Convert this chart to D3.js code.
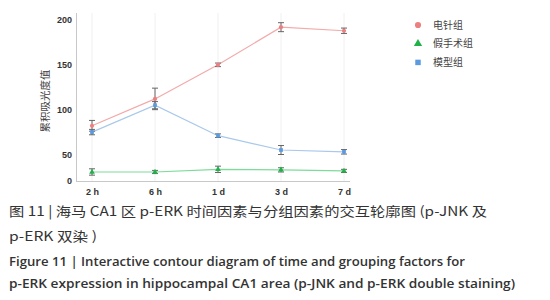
<!DOCTYPE html>
<html><head><meta charset="utf-8">
<script src="https://cdn.jsdelivr.net/npm/d3@7"></script>
<style>body{margin:0;background:#fff}svg{display:block}</style>
</head><body>
<svg id="c" width="550" height="300"></svg>
<script>
const categories = ["2 h", "6 h", "1 d", "3 d", "7 d"];
const seriesNames = ["电针组", "假手术组", "模型组"];
const eaValues = [82, 112, 150, 192, 188];
const eaErrors = [6, 12, 2, 5, 3];
const shamValues = [17, 17, 22, 21, 19];
const shamErrors = [6, 3, 6, 4, 3];
const modelValues = [75, 105, 71, 55, 53];
const modelErrors = [3, 4, 2, 5, 2.5];
const yTicks = [0, 50, 100, 150, 200];
const yTitle = "累积吸光度值";
const captionLines = [
  "图 11 | 海马 CA1 区 p-ERK 时间因素与分组因素的交互轮廓图 (p-JNK 及",
  "p-ERK 双染 )",
  "Figure 11  |  Interactive contour diagram of time and grouping factors for",
  "p-ERK expression in hippocampal CA1 area (p-JNK and p-ERK double staining)"
];

const svg = d3.select("#c");
const x = d3.scalePoint().domain(categories).range([92, 344]);
const y = d3.scaleLinear().domain([0, 50, 200]).range([181, 154.5, 20]);

svg.append("g").selectAll("line").data(categories).join("line")
  .attr("x1", d => x(d)).attr("x2", d => x(d)).attr("y1", 13).attr("y2", 181)
  .attr("stroke", "#f0f0f0").attr("stroke-width", 1);

const yAxis = d3.axisLeft(y).tickValues(yTicks).tickSize(0).tickPadding(4);
const gy = svg.append("g").attr("transform", "translate(76,0)").call(yAxis);
gy.select(".domain").remove();
svg.append("line").attr("x1", 76.5).attr("x2", 76.5).attr("y1", 13).attr("y2", 181.5)
  .attr("stroke", "#c8c8c8");
const xAxis = d3.axisBottom(x).tickSize(0).tickPadding(8);
const gx = svg.append("g").attr("transform", "translate(0,181)").call(xAxis);
gx.select(".domain").remove();
svg.append("line").attr("x1", 76).attr("x2", 350).attr("y1", 181.5).attr("y2", 181.5)
  .attr("stroke", "#c8c8c8");
svg.selectAll(".tick text").attr("font-family", "Liberation Sans, Arial, sans-serif")
  .attr("font-size", 9).attr("font-weight", "bold").attr("fill", "#333");

svg.append("text").attr("transform", "translate(49,101) rotate(-90)")
  .attr("text-anchor", "middle").attr("font-family", "Noto Sans CJK SC")
  .attr("font-size", 10.5).attr("fill", "#444").text(yTitle);

const series = [
  {name: seriesNames[0], v: eaValues, e: eaErrors, line: "#f3aaaa", mk: "#ec8080", shape: d3.symbolCircle},
  {name: seriesNames[1], v: shamValues, e: shamErrors, line: "#7ddc9a", mk: "#22b04a", shape: d3.symbolTriangle},
  {name: seriesNames[2], v: modelValues, e: modelErrors, line: "#a8c8ec", mk: "#5c9ae0", shape: d3.symbolSquare}
];
const line = d3.line().x((d, i) => x(categories[i])).y(d => y(d));
series.forEach(s => {
  svg.append("path").attr("d", line(s.v)).attr("fill", "none").attr("stroke", s.line).attr("stroke-width", 1.2);
});
series.forEach(s => {
  const g = svg.append("g");
  s.v.forEach((v, i) => {
    const cx = x(categories[i]);
    const t = y(v + s.e[i]), b = y(v - s.e[i]);
    g.append("line").attr("x1", cx).attr("x2", cx).attr("y1", t).attr("y2", b).attr("stroke", "#666").attr("stroke-width", 1);
    g.append("line").attr("x1", cx - 3).attr("x2", cx + 3).attr("y1", t).attr("y2", t).attr("stroke", "#666");
    g.append("line").attr("x1", cx - 3).attr("x2", cx + 3).attr("y1", b).attr("y2", b).attr("stroke", "#666");
    g.append("path").attr("d", d3.symbol(s.shape, 14)()).attr("transform", `translate(${cx},${y(v)})`).attr("fill", s.mk);
  });
});

const lg = svg.append("g");
series.forEach((s, i) => {
  const yy = 25 + i * 18.7;
  lg.append("path").attr("d", d3.symbol(s.shape, 30)()).attr("transform", `translate(418,${yy})`).attr("fill", s.mk);
  lg.append("text").attr("x", 433).attr("y", yy + 3.5).attr("font-family", "Noto Sans CJK SC")
    .attr("font-size", 10).attr("fill", "#444").text(s.name);
});

const capY = [216, 241, 266, 288];
const capW = [478, 88, 456, 506];
captionLines.forEach((t, i) => {
  svg.append("text").attr("x", 9).attr("y", capY[i])
    .attr("font-family", i < 2 ? "Noto Sans CJK SC" : "Open Sans")
    .attr("font-size", 13).attr("font-weight", i < 2 ? "normal" : 600).attr("fill", "#333")
    .attr("textLength", capW[i]).attr("lengthAdjust", "spacingAndGlyphs").text(t);
});
</script>
</body></html>
